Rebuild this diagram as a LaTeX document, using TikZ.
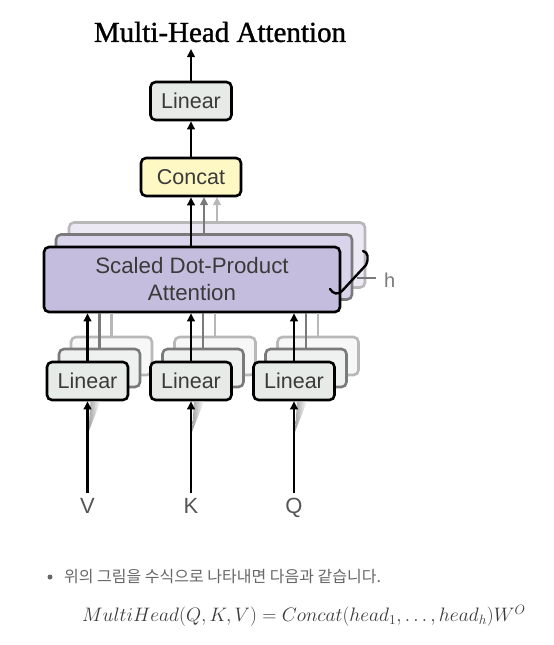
\documentclass[tikz,border=0pt]{standalone}
\usepackage[no-math]{fontspec}
\setmainfont{Liberation Serif}
\setsansfont{Liberation Sans}
\newfontfamily\krfont{Noto Sans CJK KR}
\newfontfamily\titlefont{Liberation Serif}[FakeBold=1.2]
\usetikzlibrary{arrows.meta}
\definecolor{linfill}{HTML}{E6EBE8}
\definecolor{catfill}{HTML}{FDF8C4}
\definecolor{attfill}{HTML}{C4BDDE}
\definecolor{attfillb}{HTML}{D9D4EB}
\definecolor{attfillc}{HTML}{ECE9F5}
\definecolor{linfillb}{HTML}{EEF1EF}
\definecolor{linfillc}{HTML}{F6F7F6}
\definecolor{txtgray}{HTML}{3A3A3A}
\definecolor{lblgray}{HTML}{555555}
\definecolor{bodygray}{HTML}{666666}
\definecolor{midgray}{HTML}{7A7A7A}
\definecolor{lightgray}{HTML}{B8B8B8}
\begin{document}
\begin{tikzpicture}[x=1pt,y=-1pt,
  box/.style={draw=black, line width=2.6pt, rounded corners=5pt, inner sep=0pt},
  linbox/.style={box, fill=linfill, minimum width=81pt, minimum height=38pt, font=\sffamily\fontsize{21.5}{25}\selectfont, text=txtgray},
  linboxb/.style={box, draw=midgray, fill=linfillb, minimum width=81pt, minimum height=38pt},
  linboxc/.style={box, draw=lightgray, fill=linfillc, minimum width=81pt, minimum height=38pt},
  attbox/.style={box, minimum width=296pt, minimum height=65pt},
  arr/.style={line width=2.4pt, -{Triangle[length=8pt,width=7.5pt]}},
  ln/.style={line width=2.4pt},
  lbl/.style={font=\sffamily\fontsize{22}{26}\selectfont, text=lblgray, inner sep=0pt, anchor=base},
]
\useasboundingbox (0,0) rectangle (554,645);

% ---- attention stack (back copies)
\node[attbox, draw=lightgray, fill=attfillc] (A3) at (217,255) {};
\node[attbox, draw=midgray, fill=attfillb] (A2) at (204,267) {};
\draw[arr, lightgray] (A3.north) -- (A3.north |- 0,197) coordinate (c3);
\draw[arr, midgray] (A2.north) -- (A2.north |- 0,197) coordinate (c2);
\node[attbox, fill=attfill, align=center, font=\sffamily\fontsize{22.3}{27}\selectfont, text=txtgray] (A1) at (192,279.5) {Scaled Dot-Product\\Attention};

% ---- linear stacks
\foreach \n/\cx in {v/87.5, k/191, q/294}{
  \node[linboxc] (\n3) at (\cx+24,356) {};
  \draw[ln, lightgray] (\n3.north) -- (\n3.north |- A1.south);
  \node[linboxb] (\n2) at (\cx+12,368) {};
  \draw[ln, midgray] (\n2.north) -- (\n2.north |- A1.south);
  \node[linbox] (\n1) at (\cx,381) {Linear};
  \draw[arr] (\n1.north) -- (\n1.north |- A1.south);
  \shade[left color=gray!90, right color=white, opacity=0.8] (\cx+1,432) -- (\cx+3,401.5) -- (\cx+13,401.5) -- cycle;
  \coordinate (\n in) at (\cx,493);
  \draw[arr] (\n in) -- (\n1.south);
}
\node[lbl] (V) at (87.5,513) {V};
\node[lbl] (K) at (191,513) {K};
\node[lbl] (Q) at (294,513) {Q};

% ---- concat and output linear
\node[box, fill=catfill, minimum width=100pt, minimum height=38pt, font=\sffamily\fontsize{21.5}{25}\selectfont, text=txtgray] (C) at (191,177) {Concat};
\draw[arr] (A1.north -| C.south) -- (C.south);
\node[linbox] (LO) at (191,101) {Linear};
\draw[arr] (C.north) -- (LO.south);
\coordinate (out) at (191,49);
\draw[arr] (LO.north) -- (out);

% ---- h brace
\draw[line width=2.4pt, line cap=round] (363,251) .. controls (368,252) and (369,258) .. (366,265) -- (342,291) .. controls (338,295) and (333,294) .. (330,289);
\coordinate (hl) at (357,278);
\coordinate (hr) at (376,278);
\node[font=\sffamily\fontsize{20}{24}\selectfont, text=midgray, anchor=west, inner sep=0pt] (h) at (384,280) {h};
\draw[line width=1.4pt, midgray] (hl) -- (hr);

% ---- title
\node[font=\titlefont\fontsize{29}{33}\selectfont, inner sep=0pt] (title) at (220,32) {Multi-Head Attention};

% ---- text below
\fill[bodygray] (50,577) circle (2.5pt);
\node[anchor=west, inner sep=0pt, text=bodygray, font=\krfont\fontsize{16}{19}\selectfont] (kt) at (64,577) {위의 그림을 수식으로 나타내면 다음과 같습니다.};
\node[anchor=west, inner sep=0pt, text=txtgray, font=\fontsize{17.28}{21}\selectfont, scale=1.127] (eq) at (82,616) {$MultiHead(Q,K,V)=Concat(head_1,\ldots,head_h)W^O$};
\end{tikzpicture}
\end{document}
